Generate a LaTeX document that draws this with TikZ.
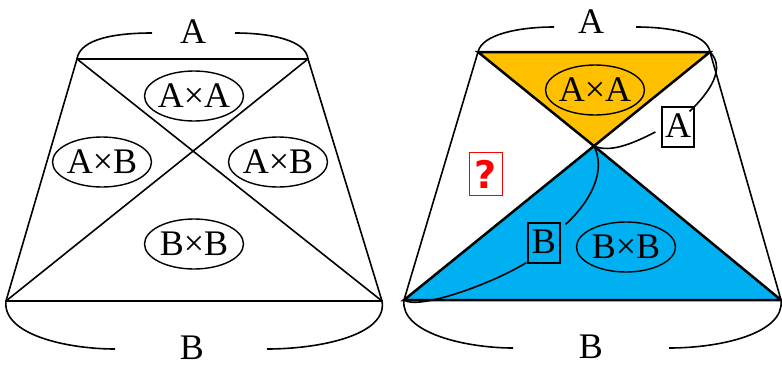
\documentclass[tikz,border=0pt]{standalone}
\usepackage{fontspec}
\setmainfont{Liberation Serif}
\newfontfamily\qfont{DejaVu Sans}
\usetikzlibrary{shapes.geometric,calc}
\definecolor{orng}{HTML}{FFC000}
\definecolor{blu}{HTML}{00B0F0}
\definecolor{qred}{HTML}{FF0000}
\begin{document}
\begin{tikzpicture}[x=1pt,y=-1pt,
  thin line/.style={line width=1.6pt},
  thick line/.style={line width=2.5pt,line join=miter},
  lbl/.style={font=\fontsize{36}{40}\selectfont,inner sep=0pt},
  oval/.style={lbl,shape=ellipse,draw,line width=1.4pt,minimum width=99pt,minimum height=50pt,inner xsep=-3pt,inner ysep=0pt},
  boxed/.style={lbl,draw,line width=1.2pt,inner xsep=2.5pt,inner ysep=1pt,text height=29pt,text depth=9pt,minimum width=32pt},
  qbox/.style={draw=qred,line width=1.2pt,text=qred,font=\qfont\bfseries\fontsize{38}{40}\selectfont,minimum width=33pt,minimum height=43pt,inner sep=0pt}]
\useasboundingbox (0,0) rectangle (782,367);
% ---------- left figure ----------
\coordinate (ltl) at (77,59);
\coordinate (ltr) at (308,59);
\coordinate (lbl) at (6,301);
\coordinate (lbr) at (382,301);
\draw[thin line] (ltl) -- (ltr) -- (lbr) -- (lbl) -- cycle;
\draw[thin line] (ltl) -- (lbr);
\draw[thin line] (ltr) -- (lbl);
\node[lbl] (lA) at (193,32) {A};
\node[lbl] (lB) at (192,348) {B};
\coordinate (lta) at (152,33);
\coordinate (ltb) at (235,33);
\coordinate (lba) at (115,349);
\coordinate (lbb) at (267,349);
\draw[thin line] (ltl) .. controls (80,38) and (118,33) .. (lta);
\draw[thin line] (ltb) .. controls (270,33) and (306,40) .. (ltr);
\draw[thin line] (lbl) .. controls (2,335) and (68,349) .. (lba);
\draw[thin line] (lbb) .. controls (320,349) and (388,335) .. (lbr);
\node[oval] (lAA) at (194,96) {A×A};
\node[oval] (lAB1) at (102,162) {A×B};
\node[oval] (lAB2) at (278,162) {A×B};
\node[oval] (lBB) at (194,244) {B×B};
% ---------- right figure ----------
\coordinate (rtl) at (478,52);
\coordinate (rtr) at (710,52);
\coordinate (rbl) at (404,300);
\coordinate (rbr) at (781,300);
\coordinate (rx) at (594,146);
\fill[orng] (rtl) -- (rtr) -- (rx) -- cycle;
\fill[blu] (rx) -- (rbr) -- (rbl) -- cycle;
\draw[thin line] (rtl) -- (rbl);
\draw[thin line] (rtr) -- (rbr);
\draw[thick line] (rtl) -- (rtr) -- (rx) -- cycle;
\draw[thick line] (rx) -- (rbr) -- (rbl) -- cycle;
\node[lbl] (rA) at (591,22) {A};
\node[lbl] (rB) at (591,347) {B};
\coordinate (rta) at (554,27);
\coordinate (rtb) at (636,27);
\coordinate (rba) at (513,348);
\coordinate (rbb) at (669,348);
\draw[thin line] (rtl) .. controls (482,34) and (520,27) .. (rta);
\draw[thin line] (rtb) .. controls (672,27) and (707,34) .. (rtr);
\draw[thin line] (rbl) .. controls (400,333) and (466,348) .. (rba);
\draw[thin line] (rbb) .. controls (722,348) and (785,333) .. (rbr);
\node[oval] (rAA) at (595,90) {A×A};
\node[oval] (rBB) at (626,247) {B×B};
\node[boxed] (bA) at (678,127) {A};
\node[boxed] (bB) at (544,243) {B};
\node[qbox] (q) at (486,174) {?};
\draw[thin line] ([xshift=-5pt,yshift=-5pt]bA.north east) .. controls (710,92) and (726,68) .. (rtr);
\draw[thin line] ([xshift=-6pt,yshift=-5pt]bA.west) .. controls (632,144) and (610,153) .. (rx);
\draw[thin line] ([xshift=5pt,yshift=-2pt]bB.north east) .. controls (592,200) and (606,170) .. (rx);
\draw[thin line] ([xshift=-1pt,yshift=1pt]bB.south west) .. controls (490,285) and (418,310) .. (rbl);
\end{tikzpicture}
\end{document}
